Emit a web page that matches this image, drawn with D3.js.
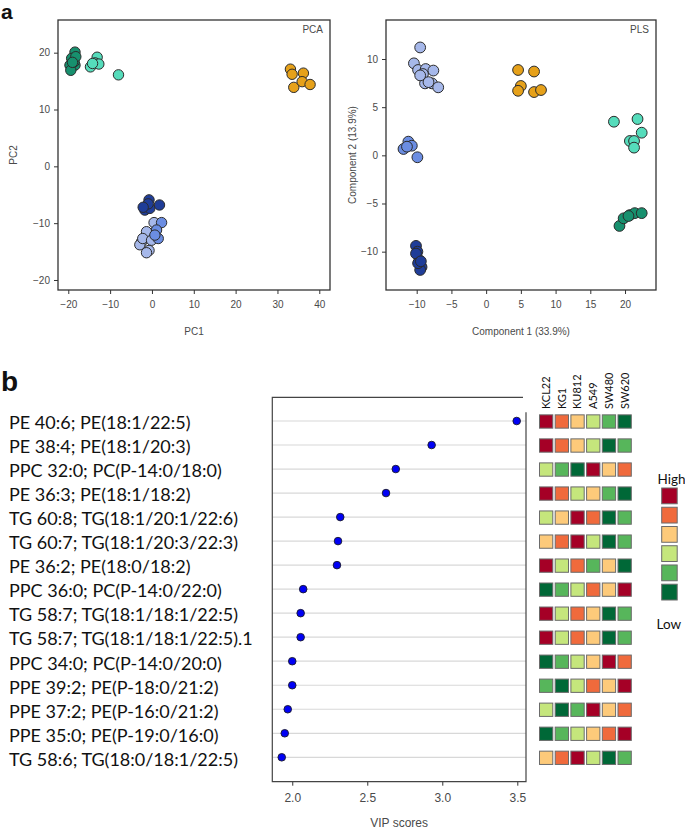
<!DOCTYPE html>
<html>
<head>
<meta charset="utf-8">
<script src="https://cdn.jsdelivr.net/npm/d3@7"></script>
<style>
  html, body { margin: 0; padding: 0; background: #fff; }
  svg { display: block; }
</style>
</head>
<body>
<svg id="chart" width="685" height="830"></svg>
<script>
// ---------------- DATA ----------------
// PCA scores (PC1, PC2) per group
const pcaDarkGreen = [[-18.4,20.1],[-19.2,19.0],[-19.6,17.8],[-18.4,17.8],[-19.4,16.9],[-18.6,18.4],[-18.2,19.3],[-19.0,18.3]];
const pcaTeal      = [[-13.1,19.2],[-13.6,18.2],[-14.7,17.5],[-12.7,18.0],[-14.2,18.1],[-8.0,16.1]];
const pcaOrange    = [[33.1,17.1],[33.5,16.2],[36.2,16.4],[33.9,13.9],[35.9,14.9],[37.8,14.4]];
const pcaLightBlue = [[0.5,-9.9],[-1.3,-11.5],[-2.5,-13.3],[-2.9,-13.8],[-0.7,-14.8],[-1.3,-15.2],[-2.2,-12.7],[-0.1,-13.0]];
const pcaMidBlue   = [[2.3,-9.9],[1.1,-11.2],[1.5,-12.7],[0.7,-12.1]];
const pcaDarkBlue  = [[-0.7,-5.9],[-1.3,-7.1],[-1.7,-7.7],[-0.5,-7.4],[1.8,-6.8],[-0.9,-6.6],[-2.1,-7.2]];

// PLS scores (Component 1, Component 2) per group
const plsLightBlue = [[-9.5,11.2],[-10.4,9.55],[-9.8,8.86],[-8.7,8.96],[-7.6,8.8],[-9.1,8.44],[-8.8,7.47],[-7.8,7.47],[-6.9,7.06],[-9.5,8.3],[-8.3,7.6]];
const plsMidBlue   = [[-11.2,1.42],[-11.9,0.66],[-10.7,1.0],[-9.9,-0.2],[-11.4,0.9]];
const plsDarkBlue  = [[-10.1,-9.4],[-9.9,-10.0],[-9.6,-10.9],[-9.3,-11.6],[-9.5,-11.9],[-10.1,-10.2],[-9.8,-11.2],[-9.4,-11.0]];
const plsOrange    = [[4.6,8.86],[6.9,8.7],[5.0,7.2],[4.6,6.7],[6.9,6.57],[7.9,6.78]];
const plsTeal      = [[18.4,3.49],[21.8,3.77],[22.4,2.35],[20.7,1.49],[21.3,1.49],[21.3,0.8]];
const plsDarkGreen = [[19.2,-7.33],[19.8,-6.54],[20.7,-6.2],[21.4,-6.0],[22.4,-6.0],[20.5,-6.3]];

const pcaXTicks = [-20,-10,0,10,20,30,40];
const pcaYTicks = [-20,-10,0,10,20];
const plsXTicks = [-10,-5,0,5,10,15,20];
const plsYTicks = [-10,-5,0,5,10];

// VIP scores
const vipLabels = [
  "PE 40:6; PE(18:1/22:5)",
  "PE 38:4; PE(18:1/20:3)",
  "PPC 32:0; PC(P-14:0/18:0)",
  "PE 36:3; PE(18:1/18:2)",
  "TG 60:8; TG(18:1/20:1/22:6)",
  "TG 60:7; TG(18:1/20:3/22:3)",
  "PE 36:2; PE(18:0/18:2)",
  "PPC 36:0; PC(P-14:0/22:0)",
  "TG 58:7; TG(18:1/18:1/22:5)",
  "TG 58:7; TG(18:1/18:1/22:5).1",
  "PPC 34:0; PC(P-14:0/20:0)",
  "PPE 39:2; PE(P-18:0/21:2)",
  "PPE 37:2; PE(P-16:0/21:2)",
  "PPE 35:0; PE(P-19:0/16:0)",
  "TG 58:6; TG(18:0/18:1/22:5)"
];
const vipScores = [3.496, 2.929, 2.69, 2.625, 2.32, 2.305, 2.298, 2.073, 2.056, 2.056, 2.0, 2.0, 1.97, 1.95, 1.93];
const vipTicks = [2.0, 2.5, 3.0, 3.5];

// Heatmap (level 6 = High ... 1 = Low)
const heatColumns = ["KCL22","KG1","KU812","A549","SW480","SW620"];
const heatLevels = [
  [6,5,4,3,2,1],
  [6,5,4,3,1,2],
  [3,2,1,6,4,5],
  [6,5,3,4,2,1],
  [3,4,6,5,1,2],
  [4,5,6,3,1,2],
  [6,3,5,2,4,1],
  [1,2,3,5,4,6],
  [6,3,5,4,1,2],
  [6,3,5,4,1,2],
  [1,2,3,4,6,5],
  [2,1,3,5,4,6],
  [3,1,2,6,4,5],
  [1,2,3,4,5,6],
  [4,5,6,3,1,2]
];
const legendLevels = [6,5,4,3,2,1];

// ---------------- STYLE ----------------
const groupColors = {
  darkGreen: "#17906e", teal: "#55dcbb", orange: "#e6a11a",
  darkBlue: "#1f3d98", midBlue: "#6b8de2", lightBlue: "#a6b8ea"
};
const heatColorScale = d3.scaleOrdinal()
  .domain([1,2,3,4,5,6])
  .range(["#006837","#57b65b","#c5e67c","#fdca7a","#f06a3c","#a50026"]);

const svg = d3.select("#chart");
const axisFont = "'Liberation Sans', Arial, Helvetica, sans-serif";
const textCol = "#4a4a4a";

// panel labels
svg.append("text").attr("x", 1).attr("y", 19).text("a")
  .attr("font-family", axisFont).attr("font-weight", "bold").attr("font-size", 21).attr("fill", "#111");
svg.append("text").attr("x", 1).attr("y", 391).text("b")
  .attr("font-family", axisFont).attr("font-weight", "bold").attr("font-size", 28).attr("fill", "#111");

// ---------------- scatter panels ----------------
function scatterPanel(opts) {
  const { x0, x1, y0, y1, xDom, yDom, xTicks, yTicks, groups, title, xTitle, yTitle, yTitleX, r } = opts;
  const x = d3.scaleLinear().domain(xDom).range([x0, x1]);
  const y = d3.scaleLinear().domain(yDom).range([y1, y0]);
  const g = svg.append("g");

  const xAxis = g.append("g").attr("transform", `translate(0,${y1})`)
    .call(d3.axisBottom(x).tickValues(xTicks).tickSize(4).tickPadding(7));
  const yAxis = g.append("g").attr("transform", `translate(${x0},0)`)
    .call(d3.axisLeft(y).tickValues(yTicks).tickSize(4).tickPadding(4));
  [xAxis, yAxis].forEach(a => {
    a.select(".domain").remove();
    a.selectAll("line").attr("stroke", "#333");
    a.selectAll("text").attr("font-family", axisFont).attr("font-size", 10).attr("fill", textCol);
  });

  groups.forEach(([pts, col]) => {
    g.append("g").selectAll("circle").data(pts).join("circle")
      .attr("cx", d => x(d[0])).attr("cy", d => y(d[1])).attr("r", r)
      .attr("fill", col).attr("stroke", "#2b2b2b").attr("stroke-width", 1);
  });

  g.append("rect").attr("x", x0).attr("y", y0).attr("width", x1 - x0).attr("height", y1 - y0)
    .attr("fill", "none").attr("stroke", "#333").attr("stroke-width", 1.3);

  g.append("text").attr("x", x1 - 7).attr("y", y0 + 13).attr("text-anchor", "end")
    .attr("font-family", axisFont).attr("font-size", 10).attr("fill", textCol).text(title);
  g.append("text").attr("x", (x0 + x1) / 2).attr("y", 335).attr("text-anchor", "middle")
    .attr("font-family", axisFont).attr("font-size", 10).attr("fill", textCol).text(xTitle);
  g.append("text").attr("transform", `translate(${yTitleX},${(y0 + y1) / 2}) rotate(-90)`)
    .attr("text-anchor", "middle").attr("dy", "0.35em")
    .attr("font-family", axisFont).attr("font-size", 10).attr("fill", textCol).text(yTitle);
}

scatterPanel({
  x0: 58, x1: 330, y0: 20, y1: 290,
  xDom: [-22.46, 42.56], yDom: [-21.76, 25.75],
  xTicks: pcaXTicks, yTicks: pcaYTicks,
  groups: [[pcaDarkGreen, groupColors.darkGreen], [pcaTeal, groupColors.teal], [pcaOrange, groupColors.orange],
           [pcaLightBlue, groupColors.lightBlue], [pcaMidBlue, groupColors.midBlue], [pcaDarkBlue, groupColors.darkBlue]],
  title: "PCA", xTitle: "PC1", yTitle: "PC2", yTitleX: 13, r: 5.2
});

scatterPanel({
  x0: 386, x1: 656, y0: 20, y1: 290,
  xDom: [-14.42, 24.46], yDom: [-13.98, 14.05],
  xTicks: plsXTicks, yTicks: plsYTicks,
  groups: [[plsLightBlue, groupColors.lightBlue], [plsMidBlue, groupColors.midBlue], [plsDarkBlue, groupColors.darkBlue],
           [plsOrange, groupColors.orange], [plsTeal, groupColors.teal], [plsDarkGreen, groupColors.darkGreen]],
  title: "PLS", xTitle: "Component 1 (33.9%)", yTitle: "Component 2 (13.9%)", yTitleX: 352, r: 5.4
});

// ---------------- VIP plot ----------------
const vx0 = 272.3, vx1 = 526, vy0 = 397.3, vy1 = 781.7;
const vx = d3.scaleLinear().domain([1.867, 3.558]).range([vx0, vx1]);
const vy = d3.scalePoint().domain(vipLabels).range([421, 757.3]);

const vip = svg.append("g");
vip.append("g").selectAll("line").data(vipLabels).join("line")
  .attr("x1", vx0).attr("x2", vx1).attr("y1", d => vy(d)).attr("y2", d => vy(d))
  .attr("stroke", "#d8d8d8").attr("stroke-width", 1.2);

const vxAxis = vip.append("g").attr("transform", `translate(0,${vy1})`)
  .call(d3.axisBottom(vx).tickValues(vipTicks).tickFormat(d3.format(".1f")).tickSize(4).tickPadding(8));
vxAxis.select(".domain").remove();
vxAxis.selectAll("line").attr("stroke", "#333");
vxAxis.selectAll("text").attr("font-family", axisFont).attr("font-size", 12).attr("fill", textCol);

vip.append("text").attr("x", (vx0 + vx1) / 2).attr("y", 827).attr("text-anchor", "middle")
  .attr("font-family", axisFont).attr("font-size", 12).attr("fill", textCol).text("VIP scores");

// frame
vip.append("path")
  .attr("d", `M${vx1 - 3},${vy0} H${vx0} V${vy1} H${vx1} V${vy0 + 15}`)
  .attr("fill", "none").attr("stroke", "#444").attr("stroke-width", 1.2);

vip.append("g").selectAll("circle").data(vipLabels).join("circle")
  .attr("cx", (d, i) => vx(vipScores[i])).attr("cy", d => vy(d)).attr("r", 3.8)
  .attr("fill", "#0000f5").attr("stroke", "#1a1a2a").attr("stroke-width", 0.9);

// row labels
vip.append("g").selectAll("text").data(vipLabels).join("text")
  .attr("x", 9).attr("y", d => vy(d) + 2).attr("dy", "0.35em")
  .attr("font-family", "Lato, 'Open Sans', sans-serif").attr("font-size", 18).attr("fill", "#111")
  .text(d => d);

// ---------------- heatmap ----------------
const hx = d3.scaleBand().domain(heatColumns).range([539.5, 631.3]).paddingInner(0.153).paddingOuter(0);
const cellH = 13.3;
const heat = svg.append("g");
vipLabels.forEach((lab, i) => {
  heat.append("g").selectAll("rect").data(heatLevels[i]).join("rect")
    .attr("x", (d, j) => hx(heatColumns[j])).attr("y", vy(lab) - cellH / 2 + 0.5)
    .attr("width", hx.bandwidth()).attr("height", cellH)
    .attr("fill", d => heatColorScale(d)).attr("stroke", "#6b6b6b").attr("stroke-width", 1);
});
heat.append("g").selectAll("text").data(heatColumns).join("text")
  .attr("transform", d => `translate(${hx(d) + hx.bandwidth() / 2},409) rotate(-90)`)
  .attr("dy", "0.35em").attr("text-anchor", "start")
  .attr("font-family", "Lato, sans-serif").attr("font-size", 11).attr("fill", "#111")
  .text(d => d);

// legend
const ly = d3.scaleBand().domain(legendLevels).range([488, 600]).paddingInner(0.18).paddingOuter(0);
heat.append("g").selectAll("rect").data(legendLevels).join("rect")
  .attr("x", 661.7).attr("y", d => ly(d)).attr("width", 15.5).attr("height", ly.bandwidth())
  .attr("fill", d => heatColorScale(d)).attr("stroke", "#6b6b6b").attr("stroke-width", 1);
heat.append("text").attr("x", 657.5).attr("y", 484).text("High")
  .attr("font-family", "Lato, sans-serif").attr("font-size", 13.5).attr("fill", "#111");
heat.append("text").attr("x", 656.5).attr("y", 629).text("Low")
  .attr("font-family", "Lato, sans-serif").attr("font-size", 13.5).attr("fill", "#111");
</script>
</body>
</html>
